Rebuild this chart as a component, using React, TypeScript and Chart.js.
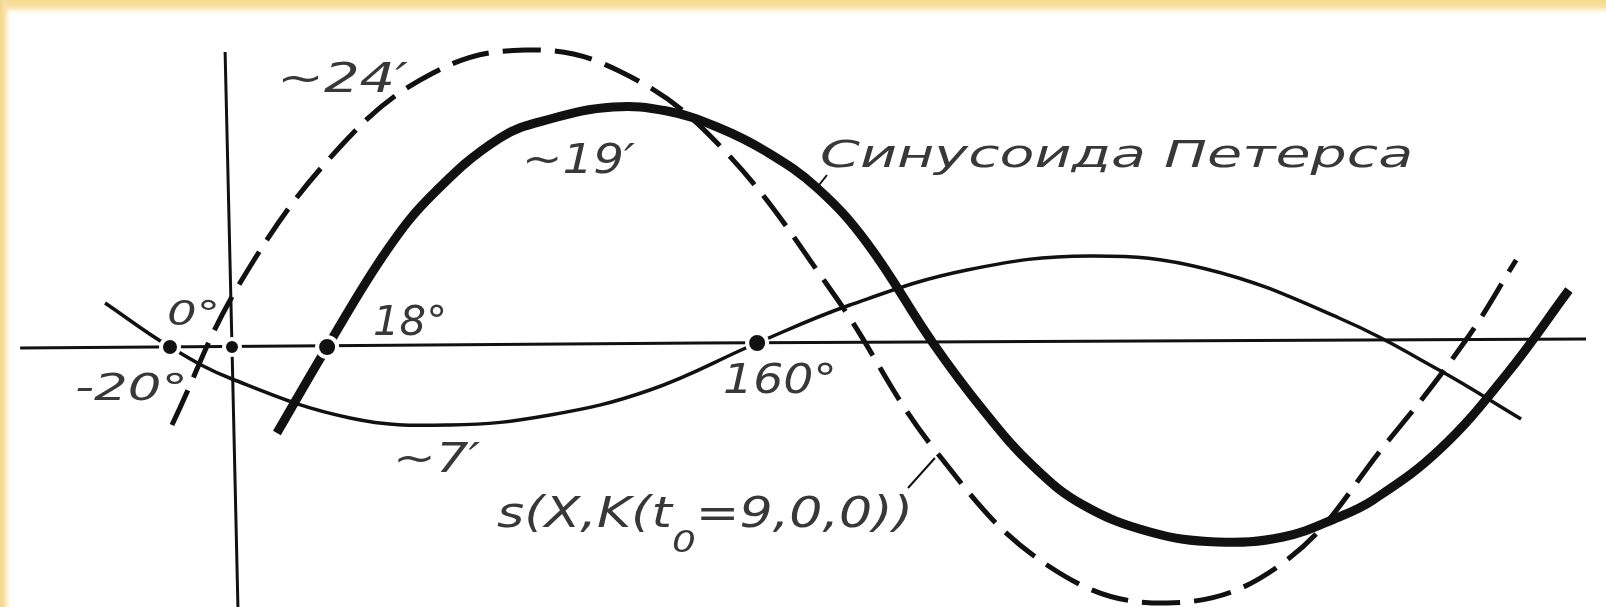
import React, { useEffect, useRef } from "react";
import { Chart, registerables } from "chart.js";

Chart.register(...registerables);

// x: phase in degrees, y: deviation in arc-minutes
const axisX = [-64.6, 142.7, 412.8];
const axisY = [-0.24, 0.16, 0.48];

const vAxisX = [-2.1, 0, 1.83];
const vAxisY = [23.44, -0.16, -21.2];

// thin curve (~7')
const thinX = [-38.7, -18.9, 0, 36.0, 66.5, 97.0, 127.4, 160.1, 188.4, 224.1, 261.6, 297.0, 337.5, 368.0, 393.0];
const thinY = [3.36, -0.16, -2.72, -5.84, -6.4, -5.6, -3.6, 0.16, 3.2, 6.0, 7.12, 6.08, 2.16, -2.0, -5.92];

// thick curve: Peters sinusoid (~19')
const thickX = [13.7, 29.0, 47.3, 61.3, 81.7, 97.0, 116.2, 132.6, 147.9, 163.1, 178.4, 193.6, 213.7, 229.0, 244.2, 259.5, 279.9, 300.3, 320.4, 337.5, 347.9, 368.0, 388.4, 407.6];
const thickY = [-7.04, -0.16, 7.6, 12.08, 16.56, 18.08, 19.04, 18.72, 17.44, 15.44, 12.56, 8.16, 0.16, -5.2, -9.68, -12.8, -14.96, -15.76, -15.36, -13.76, -12.4, -8.4, -2.4, 4.4];

// dashed curve: s(X, K(t0 = 9,0,0)) (~24')
const dashX = [-18.3, 2.44, 32.9, 61.3, 89.4, 117.4, 147.9, 183.2, 214.3, 249.4, 285.1, 320.4, 352.7, 376.2, 391.5];
const dashY = [-6.4, 4.96, 15.84, 21.76, 23.6, 22.0, 16.16, 4.16, -8.4, -17.76, -20.64, -17.44, -7.6, 0.4, 6.8];

// marked nodes on the axis
const nodeX = [-18.9, 0, 29.0, 160.1];
const nodeY = [-0.16, -0.16, -0.16, 0.16];

// leader lines
const leaderPetersX = [178.0, 181.4];
const leaderPetersY = [12.48, 13.6];
const leaderSX = [206.1, 214.3];
const leaderSY = [-11.44, -9.04];

// annotation texts and anchors (left, baseline) in data units
const labelTexts = ["~24′", "~19′", "Синусоида Петерса", "0°", "-20°", "18°", "160°", "~7′", "s(X,K(t|0|=9,0,0))"];
const labelX = [13.7, 88.4, 179.3, -19.8, -47.9, 43.0, 149.7, 49.1, 80.8];
const labelY = [20.24, 13.76, 14.24, 1.6, -4.4, 0.8, -3.84, -10.16, -14.56];

// text styles (size px, target width px)
const labelSize = [41, 41, 37, 34, 38, 41, 41, 41, 42];
const labelWidth = [131, 113, 593, 53, 113, 74, 114, 87, 416];

const zip = (xs: number[], ys: number[]) => xs.map((x, i) => ({ x, y: ys[i] }));

const INK = "#111";
const TEXT = "#383838";
const FONT = '"DejaVu Sans", sans-serif';

const labelPlugin = {
  id: "labels",
  afterDatasetsDraw(chart: any) {
    const ctx: CanvasRenderingContext2D = chart.ctx;
    const xs = chart.scales.x;
    const ys = chart.scales.y;
    ctx.save();
    ctx.fillStyle = TEXT;
    ctx.textBaseline = "alphabetic";
    ctx.textAlign = "left";
    labelTexts.forEach((t, i) => {
      const px = xs.getPixelForValue(labelX[i]);
      const py = ys.getPixelForValue(labelY[i]);
      const size = labelSize[i];
      const parts = t.split("|");
      const subSize = size * 0.72;
      const main = `italic 200 ${size}px ${FONT}`;
      const sub = `italic 200 ${subSize}px ${FONT}`;
      let measured = 0;
      parts.forEach((p, k) => {
        ctx.font = k % 2 === 1 ? sub : main;
        measured += ctx.measureText(p).width;
      });
      const sx = labelWidth[i] / measured;
      ctx.save();
      ctx.translate(px, py);
      ctx.scale(sx, 1);
      let cx = 0;
      parts.forEach((p, k) => {
        const isSub = k % 2 === 1;
        ctx.font = isSub ? sub : main;
        ctx.fillText(p, cx, isSub ? size * 0.6 : 0);
        cx += ctx.measureText(p).width;
      });
      ctx.restore();
    });
    ctx.restore();
  },
};

export default function App() {
  const ref = useRef<HTMLCanvasElement>(null);
  useEffect(() => {
    document.body.style.margin = "0";
    const line = (xs: number[], ys: number[], width: number, dash: number[] = [], tension = 0.4) => ({
      data: zip(xs, ys),
      showLine: true,
      pointRadius: 0,
      borderColor: INK,
      borderWidth: width,
      borderDash: dash,
      borderCapStyle: "butt" as const,
      tension,
      fill: false,
    });
    const chart = new Chart(ref.current as HTMLCanvasElement, {
      type: "scatter",
      data: {
        datasets: [
          {
            data: zip(nodeX, nodeY),
            showLine: false,
            pointRadius: [9, 8, 10, 10],
            pointBackgroundColor: INK,
            pointBorderColor: "#ffffff",
            pointBorderWidth: 4,
          } as any,
          line(thickX, thickY, 9),
          line(dashX, dashY, 5, [38, 14]),
          line(thinX, thinY, 3.5),
          line(axisX, axisY, 3, [], 0),
          line(vAxisX, vAxisY, 3, [], 0),
          line(leaderPetersX, leaderPetersY, 2, [], 0),
          line(leaderSX, leaderSY, 2, [], 0),
        ],
      },
      options: {
        responsive: false,
        animation: false,
        events: [],
        layout: { padding: 0, autoPadding: false },
        plugins: {
          legend: { display: false },
          tooltip: { enabled: false },
          title: { display: false },
        },
        scales: {
          x: { type: "linear", min: -70.73, max: 418.9, display: false },
          y: { type: "linear", min: -20.96, max: 27.6, display: false },
        },
      },
      plugins: [labelPlugin],
    });
    return () => chart.destroy();
  }, []);

  return (
    <div style={{ position: "absolute", left: 0, top: 0, width: 1606, height: 607, background: "#ffffff", overflow: "hidden" }}>
      <div style={{ position: "absolute", left: 0, top: 0, width: 1606, height: 14, background: "linear-gradient(to bottom, #f5d88c 0px, #f7e1a6 7px, #fcf3dc 10px, rgba(255,255,255,0) 14px)" }} />
      <div style={{ position: "absolute", left: 0, top: 0, width: 10, height: 607, background: "linear-gradient(to right, #f1d68c 0px, #f5e0a8 4px, rgba(255,255,255,0) 10px)" }} />
      <canvas ref={ref} width={1606} height={607} style={{ position: "absolute", left: 0, top: 0, width: 1606, height: 607 }} />
    </div>
  );
}
